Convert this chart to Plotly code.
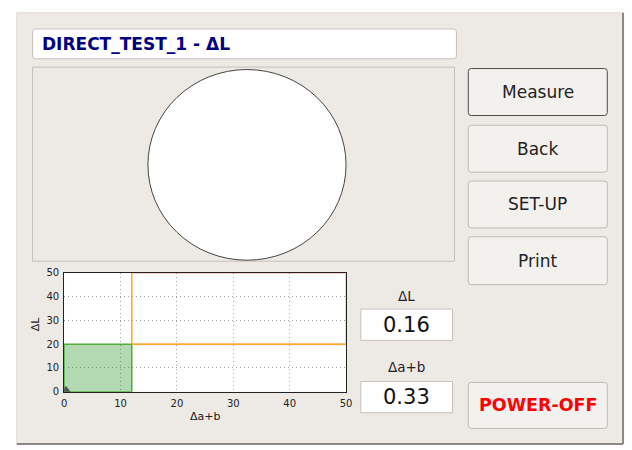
import plotly.graph_objects as go

# ---- data ----
title_text = "DIRECT_TEST_1 - ΔL"
limit_ab = 12          # Δa+b tolerance
limit_L = 20           # ΔL tolerance
axis_max = 50
tick_vals = [0, 10, 20, 30, 40, 50]
measured_L = 0.16
measured_ab = 0.33
x_title = "Δa+b"
y_title = "ΔL"
buttons = ["Measure", "Back", "SET-UP", "Print"]
power_label = "POWER-OFF"

W, H = 632, 450
FONT = "DejaVu Sans"
WIN = "#edeae6"


def px(x):
    return x / W


def py(y):
    return 1 - y / H


def rrect(x0, y0, x1, y1, r):
    pts = [
        ("M", (x0 + r, y0)), ("L", (x1 - r, y0)), ("Q", (x1, y0), (x1, y0 + r)),
        ("L", (x1, y1 - r)), ("Q", (x1, y1), (x1 - r, y1)),
        ("L", (x0 + r, y1)), ("Q", (x0, y1), (x0, y1 - r)),
        ("L", (x0, y0 + r)), ("Q", (x0, y0), (x0 + r, y0)),
    ]
    s = ""
    for p in pts:
        s += p[0] + " " + " ".join(f"{px(a):.5f},{py(b):.5f}" for a, b in p[1:]) + " "
    return s + "Z"


shapes = []
annotations = []

# window background
shapes.append(dict(type="rect", xref="paper", yref="paper", x0=px(14), x1=px(629), y0=py(8), y1=py(449),
                   fillcolor=WIN, line=dict(color="#dcd9d4", width=1), layer="below"))
shapes.append(dict(type="line", xref="paper", yref="paper", x0=px(629), x1=px(629), y0=py(8), y1=py(449),
                   line=dict(color="#8a8884", width=2), layer="below"))
shapes.append(dict(type="line", xref="paper", yref="paper", x0=px(14), x1=px(629), y0=py(449), y1=py(449),
                   line=dict(color="#8a8884", width=2), layer="below"))

# title box
shapes.append(dict(type="path", xref="paper", yref="paper", path=rrect(30, 24.5, 460, 55, 3),
                   fillcolor="white", line=dict(color="#c4c1bc", width=1), layer="below"))
annotations.append(dict(x=px(38), y=py(40), xref="paper", yref="paper", text=f"<b>{title_text}</b>",
                        showarrow=False, xanchor="left", yanchor="middle",
                        font=dict(family=FONT, size=17, color="#000080")))

# upper panel with circle
shapes.append(dict(type="rect", xref="paper", yref="paper", x0=px(30), x1=px(458), y0=py(63.5), y1=py(262),
                   fillcolor=WIN, line=dict(color="#c4c1bc", width=1), layer="below"))
shapes.append(dict(type="circle", xref="paper", yref="paper", x0=px(147), x1=px(348), y0=py(66), y1=py(261),
                   fillcolor="white", line=dict(color="#444444", width=1), layer="below"))

# chart plot area background
xd = [px(62), px(348)]
yd = [py(395.5), py(274)]
shapes.append(dict(type="rect", xref="paper", yref="paper", x0=xd[0], x1=xd[1], y0=yd[0], y1=yd[1],
                   fillcolor="white", line=dict(width=0), layer="below"))

# value boxes
for label, val, ly, by0, by1 in [(y_title, measured_L, 298, 311, 343), (x_title, measured_ab, 370, 385, 417)]:
    annotations.append(dict(x=px(409), y=py(ly), xref="paper", yref="paper", text=label, showarrow=False,
                            xanchor="center", yanchor="middle", font=dict(family=FONT, size=13.5, color="#222")))
    shapes.append(dict(type="rect", xref="paper", yref="paper", x0=px(363), x1=px(456), y0=py(by0), y1=py(by1),
                       fillcolor="white", line=dict(color="#c4c1bc", width=1), layer="below"))
    annotations.append(dict(x=px(409.5), y=py((by0 + by1) / 2), xref="paper", yref="paper", text=f"{val:.2f}",
                            showarrow=False, xanchor="center", yanchor="middle",
                            font=dict(family=FONT, size=21, color="#111")))

# buttons
btn_y = [(65, 113), (123, 171), (180, 228), (237, 286)]
for i, (lab, (b0, b1)) in enumerate(zip(buttons, btn_y)):
    shapes.append(dict(type="path", xref="paper", yref="paper", path=rrect(472, b0, 613, b1, 3),
                       fillcolor="#f3f1ee", line=dict(color="#4a4a4a" if i == 0 else "#bdb9b3", width=1),
                       layer="below"))
    annotations.append(dict(x=px(542.5), y=py((b0 + b1) / 2), xref="paper", yref="paper", text=lab,
                            showarrow=False, xanchor="center", yanchor="middle",
                            font=dict(family=FONT, size=17, color="#222")))
shapes.append(dict(type="path", xref="paper", yref="paper", path=rrect(472, 386, 613, 433, 3),
                   fillcolor="#f3f1ee", line=dict(color="#bdb9b3", width=1), layer="below"))
annotations.append(dict(x=px(542.5), y=py(409.5), xref="paper", yref="paper", text=f"<b>{power_label}</b>",
                        showarrow=False, xanchor="center", yanchor="middle",
                        font=dict(family=FONT, size=17.5, color="#ff0000")))

# axis titles
annotations.append(dict(x=px(33), y=py(326), xref="paper", yref="paper", text=y_title, textangle=-90,
                        showarrow=False, xanchor="center", yanchor="middle",
                        font=dict(family=FONT, size=11, color="#222")))
annotations.append(dict(x=px(205), y=py(421), xref="paper", yref="paper", text=x_title,
                        showarrow=False, xanchor="center", yanchor="middle",
                        font=dict(family=FONT, size=11, color="#222")))

fig = go.Figure()

# OK region (green)
fig.add_trace(go.Scatter(x=[0, limit_ab, limit_ab, 0, 0], y=[0, 0, limit_L, limit_L, 0],
                         fill="toself", fillcolor="rgba(0,128,0,0.3)", mode="lines",
                         line=dict(color="#4fae3c", width=1.5), hoverinfo="skip"))
# faint red outline of the out-of-tolerance area
fig.add_trace(go.Scatter(x=[limit_ab, axis_max, axis_max, limit_ab], y=[axis_max, axis_max, limit_L, limit_L],
                         mode="lines", line=dict(color="rgba(255,80,80,0.3)", width=2), hoverinfo="skip"))
# orange tolerance lines
fig.add_trace(go.Scatter(x=[limit_ab, limit_ab], y=[limit_L, axis_max], mode="lines",
                         line=dict(color="#ffaa22", width=1.5), hoverinfo="skip"))
fig.add_trace(go.Scatter(x=[limit_ab, axis_max], y=[limit_L, limit_L], mode="lines",
                         line=dict(color="#ffaa22", width=1.5), hoverinfo="skip"))
# measured point
fig.add_trace(go.Scatter(x=[measured_ab], y=[measured_L], mode="markers", cliponaxis=True,
                         marker=dict(symbol="triangle-up", size=11, color="#555555"), hoverinfo="skip"))

axis_common = dict(range=[0, axis_max], tickvals=tick_vals, showgrid=True, gridcolor="#a0a0a0",
                   griddash="1px,3px", gridwidth=1, zeroline=False, showline=True, linecolor="#222222",
                   linewidth=1, mirror=True, ticks="", tickfont=dict(family=FONT, size=10, color="#222"),
                   fixedrange=True)
fig.update_layout(
    width=W, height=H, autosize=False,
    margin=dict(l=0, r=0, t=0, b=0),
    paper_bgcolor="white", plot_bgcolor="rgba(0,0,0,0)",
    showlegend=False,
    xaxis=dict(domain=xd, ticklabelstandoff=2, **axis_common),
    yaxis=dict(domain=yd, ticklabelstandoff=2, **axis_common),
    shapes=shapes, annotations=annotations,
)

fig.write_html("out.html", config={"displayModeBar": False},
               post_script="document.body.style.margin='0';document.body.style.padding='0';"
                           "document.documentElement.style.overflow='hidden';")
